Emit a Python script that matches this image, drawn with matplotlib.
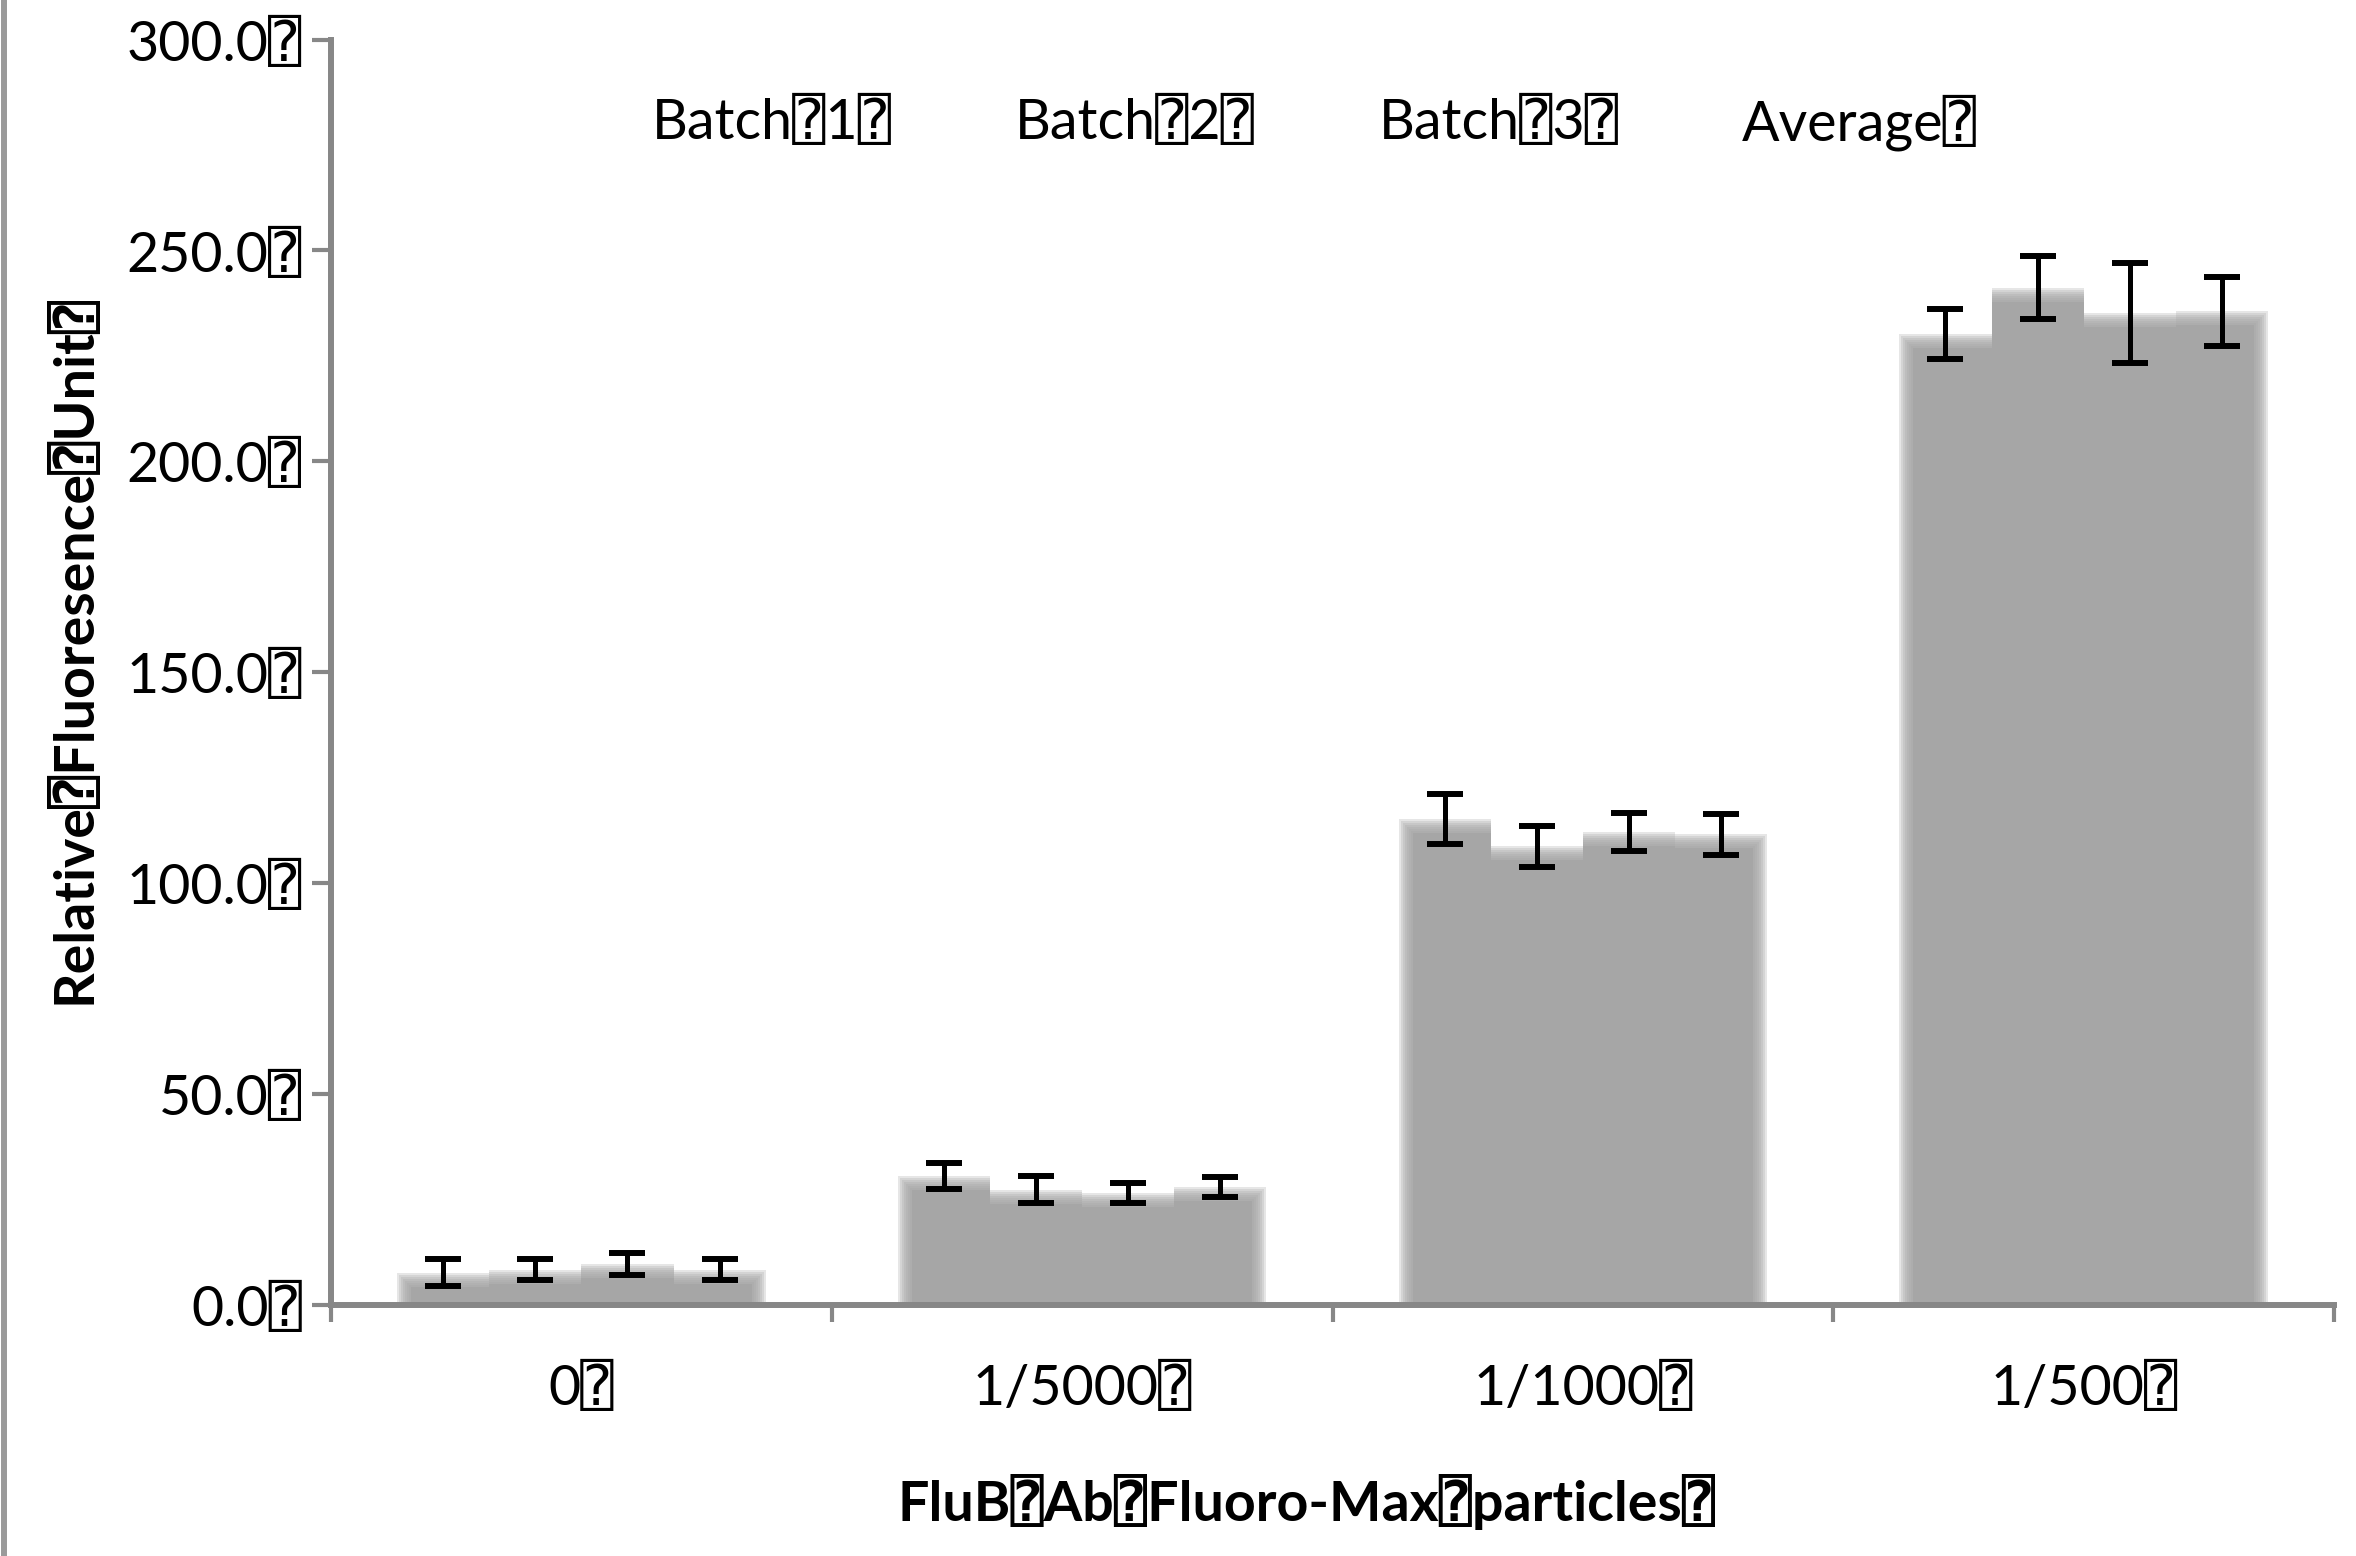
import numpy as np
import matplotlib.pyplot as plt
from matplotlib.lines import Line2D

plt.rcParams['font.family'] = ['Lato', 'DejaVu Sans', 'DejaVu Sans Mono']

BOX = '\u2370'

# dilutions on the x axis
categories = ['0', '1/5000', '1/1000', '1/500']
series = ['Batch' + BOX + '1' + BOX, 'Batch' + BOX + '2' + BOX,
          'Batch' + BOX + '3' + BOX, 'Average' + BOX]

# relative fluorescence per batch and its error
batch1 = [7.7, 30.5, 115.2, 230.2]
batch2 = [8.4, 27.3, 108.7, 241.2]
batch3 = [9.8, 26.6, 112.1, 235.2]
average = [8.4, 28.0, 111.6, 235.6]
err1 = [3.2, 3.1, 5.9, 6.0]
err2 = [2.5, 3.2, 4.9, 7.4]
err3 = [2.6, 2.4, 4.5, 11.8]
err_avg = [2.5, 2.4, 4.9, 8.2]

yticks = [0, 50, 100, 150, 200, 250, 300]

values = [batch1, batch2, batch3, average]
errors = [err1, err2, err3, err_avg]

fig = plt.figure(figsize=(23.56, 15.56), dpi=100)
ax = fig.add_axes([0.1405, 0.1613, 0.8502, 0.8133])
ax.set_xlim(-0.5, 3.5)
ax.set_ylim(0, 300)

# size of one pixel in data units, used for the soft bar edges
ax_w = 0.8502 * 2356
ax_h = 0.8133 * 1556
px_x = 4.0 / ax_w
px_y = 300.0 / ax_h

bar_color = '#a6a6a6'
w = 0.184
x = np.arange(len(categories))
nlayers = 8
step = 2.0

for i, (vals, errs) in enumerate(zip(values, errors)):
    xs = x + (i - 1.5) * w
    for k in range(nlayers):
        d = k * step
        last = (k == nlayers - 1)
        # only fade the outer sides of each group
        dl = d * px_x if i == 0 else 0
        dr = d * px_x if i == 3 else 0
        heights = [v - d * px_y for v in vals]
        ax.bar(xs - w / 2 + dl, heights, width=w - dl - dr, align='edge',
               color=bar_color, alpha=1.0 if last else 0.28,
               linewidth=0, zorder=2)
    ax.errorbar(xs, vals, yerr=errs, fmt='none', ecolor='black',
                elinewidth=3.6, capsize=13, capthick=4.3, zorder=5)

# legend-like labels across the top
for i, name in enumerate(series):
    ax.text(0.160 + i * 0.1815, 0.934, name, transform=ax.transAxes,
            ha='left', va='center', fontsize=40)

axis_gray = '#878787'
for s in ['top', 'right']:
    ax.spines[s].set_visible(False)
for s in ['left', 'bottom']:
    ax.spines[s].set_color(axis_gray)
    ax.spines[s].set_linewidth(4.3)

ax.set_yticks(yticks)
ax.set_yticklabels(['%.1f' % t + BOX for t in yticks])
ax.tick_params(axis='y', length=14, width=3, color=axis_gray, pad=7,
               labelsize=40)

ax.set_xticks(np.arange(-0.5, 4.0, 1.0))
ax.set_xticklabels([])
ax.set_xticks(x, minor=True)
ax.set_xticklabels([c + BOX for c in categories], minor=True)
ax.tick_params(axis='x', which='major', length=12, width=3, color=axis_gray)
ax.tick_params(axis='x', which='minor', length=0, pad=42, labelsize=40)

ax.set_xlabel('FluB' + BOX + 'Ab' + BOX + 'Fluoro-Max' + BOX + 'particles' + BOX,
              fontsize=40, fontweight='bold', va='center')
ax.xaxis.set_label_coords(0.487, -0.156)
ax.set_ylabel('Relative' + BOX + 'Fluoresence' + BOX + 'Unit' + BOX,
              fontsize=40, fontweight='bold', va='center')
ax.yaxis.set_label_coords(-0.129, 0.518)

# frame line on the left edge
fig.add_artist(Line2D([0.0017, 0.0017], [0, 1], color='#9a9a9a', lw=4.3))

fig.savefig('out.png', dpi=100)
